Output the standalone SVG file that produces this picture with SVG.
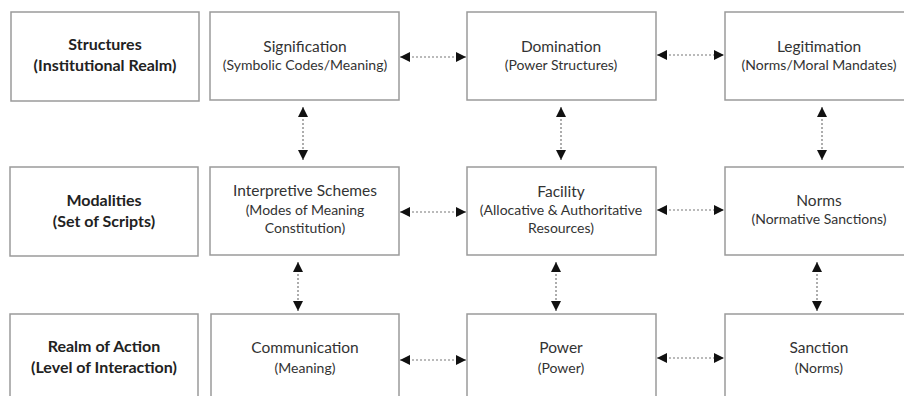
<svg xmlns="http://www.w3.org/2000/svg" width="904" height="396" viewBox="0 0 904 396">
  <style>
    .box { fill: #ffffff; stroke: #9a9a9a; stroke-width: 1.5; }
    .t { font-family: Lato, "Open Sans", "Liberation Sans", sans-serif; fill: #333333; text-anchor: middle; }
    .h { font-size: 15.5px; }
    .s { font-size: 14px; }
    .b { font-family: Lato, "Open Sans", "Liberation Sans", sans-serif; font-weight: bold; font-size: 16px; fill: #222222; text-anchor: middle; }
    .link { stroke: #777777; stroke-width: 1.2; stroke-dasharray: 2 2; fill: none; marker-start: url(#arrow); marker-end: url(#arrow); }
  </style>
  <defs>
    <marker id="arrow" viewBox="0 0 10 10" refX="10" refY="5" markerUnits="userSpaceOnUse" markerWidth="10" markerHeight="10" orient="auto-start-reverse">
      <path d="M0,0 L10,5 L0,10 z" fill="#111111"/>
    </marker>
  </defs>
  <rect width="904" height="396" fill="#ffffff"/>

  <!-- row headers -->
  <g id="structures">
    <rect class="box" x="11" y="12" width="188" height="89"/>
    <text class="b" x="105" y="50">Structures</text>
    <text class="b" x="105" y="71">(Institutional Realm)</text>
  </g>
  <g id="modalities">
    <rect class="box" x="10" y="167" width="188" height="89"/>
    <text class="b" x="104" y="206">Modalities</text>
    <text class="b" x="104" y="227">(Set of Scripts)</text>
  </g>
  <g id="realm-of-action">
    <rect class="box" x="10" y="314" width="188" height="89"/>
    <text class="b" x="104" y="352">Realm of Action</text>
    <text class="b" x="104" y="373">(Level of Interaction)</text>
  </g>

  <!-- structures row -->
  <g id="signification">
    <rect class="box" x="210" y="12" width="189" height="88"/>
    <text class="t h" x="305" y="52">Signification</text>
    <text class="t s" x="305" y="70">(Symbolic Codes/Meaning)</text>
  </g>
  <g id="domination">
    <rect class="box" x="467" y="12" width="189" height="88"/>
    <text class="t h" x="561" y="52">Domination</text>
    <text class="t s" x="561" y="70">(Power Structures)</text>
  </g>
  <g id="legitimation">
    <rect class="box" x="725" y="12" width="189" height="88"/>
    <text class="t h" x="819" y="52">Legitimation</text>
    <text class="t s" x="819" y="70">(Norms/Moral Mandates)</text>
  </g>

  <!-- modalities row -->
  <g id="interpretive-schemes">
    <rect class="box" x="210" y="167" width="189" height="88"/>
    <text class="t h" x="305" y="196">Interpretive Schemes</text>
    <text class="t s" x="305" y="215">(Modes of Meaning</text>
    <text class="t s" x="305" y="233">Constitution)</text>
  </g>
  <g id="facility">
    <rect class="box" x="467" y="167" width="189" height="88"/>
    <text class="t h" x="561" y="197">Facility</text>
    <text class="t s" x="561" y="215">(Allocative &amp; Authoritative</text>
    <text class="t s" x="561" y="233">Resources)</text>
  </g>
  <g id="norms">
    <rect class="box" x="725" y="167" width="189" height="88"/>
    <text class="t h" x="819" y="206">Norms</text>
    <text class="t s" x="819" y="224">(Normative Sanctions)</text>
  </g>

  <!-- action row -->
  <g id="communication">
    <rect class="box" x="211" y="314" width="188" height="89"/>
    <text class="t h" x="305" y="353">Communication</text>
    <text class="t s" x="305" y="373">(Meaning)</text>
  </g>
  <g id="power">
    <rect class="box" x="467" y="314" width="189" height="89"/>
    <text class="t h" x="561" y="353">Power</text>
    <text class="t s" x="561" y="373">(Power)</text>
  </g>
  <g id="sanction">
    <rect class="box" x="725" y="314" width="189" height="89"/>
    <text class="t h" x="819" y="353">Sanction</text>
    <text class="t s" x="819" y="373">(Norms)</text>
  </g>

  <!-- two-way links between neighbours -->
  <g id="connectors">
    <line class="link" x1="400" y1="57" x2="466" y2="57"/>
    <line class="link" x1="657" y1="55" x2="724" y2="55"/>
    <line class="link" x1="400" y1="212" x2="466" y2="212"/>
    <line class="link" x1="657" y1="210" x2="724" y2="210"/>
    <line class="link" x1="400" y1="360" x2="466" y2="360"/>
    <line class="link" x1="657" y1="358" x2="724" y2="358"/>

    <line class="link" x1="303" y1="107" x2="303" y2="160"/>
    <line class="link" x1="561" y1="107" x2="561" y2="160"/>
    <line class="link" x1="822" y1="107" x2="822" y2="160"/>
    <line class="link" x1="298" y1="262" x2="298" y2="311"/>
    <line class="link" x1="556" y1="262" x2="556" y2="311"/>
    <line class="link" x1="817" y1="262" x2="817" y2="311"/>
  </g>
</svg>
